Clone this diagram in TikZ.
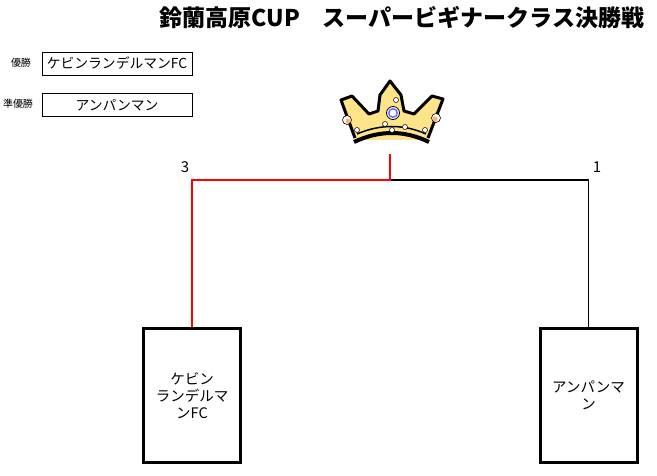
\documentclass[tikz,border=0pt]{standalone}
\usepackage{fontspec}
\newfontfamily\jp{Noto Sans CJK JP}
\usetikzlibrary{calc}

\begin{document}
\begin{tikzpicture}[x=1pt,y=-1pt,
    teambox/.style={draw,line width=3pt,minimum width=97pt,minimum height=134pt,
        align=center,font=\jp\fontsize{14.5}{17}\selectfont,inner sep=0pt},
    resultbox/.style={draw,line width=0.8pt,minimum width=150pt,minimum height=23pt,
        font=\jp\fontsize{13.8}{15}\selectfont,inner sep=0pt},
    smalllabel/.style={font=\jp\fontsize{10}{12}\selectfont},
    scorelabel/.style={font=\jp\fontsize{15}{17}\selectfont},
    winline/.style={red,line width=1.8pt},
    loseline/.style={black,line width=1.8pt}]
    \useasboundingbox (0,0) rectangle (657,476);

    % Title
    \node[font=\jp\bfseries\fontsize{23}{26}\selectfont] (title) at (402,18)
        {鈴蘭高原CUP　スーパービギナークラス決勝戦};

    % Results
    \node[smalllabel] (winlabel) at (21,63) {優勝};
    \node[resultbox] (winner) at (117,63.5) {ケビンランデルマンFC};
    \node[smalllabel] (runlabel) at (18,104) {準優勝};
    \node[resultbox] (runnerup) at (117,105) {アンパンマン};

    % Crown
    \fill[yellow!60!orange!45] (355,140) -- (341,100) -- (352,96) -- (369,114) -- (378,111)
        -- (380,95) -- (390,81) -- (401,95) -- (404,111) -- (414,114) -- (432,96) -- (443,99)
        -- (428,140) -- cycle;
    \draw[line width=3pt,line join=round] (355,138) -- (341,100) -- (352,96) -- (369,114)
        -- (378,111) -- (380,95) -- (390,81) -- (401,95) -- (404,111) -- (414,114)
        -- (432,96) -- (443,99) -- (428,138);
    \draw[line width=4pt] (354,142) .. controls (380,130) and (404,130) .. (429,142);
    \draw[line width=1.5pt] (357,134) .. controls (380,124) and (404,124) .. (426,134);
    \fill[white,draw=black,line width=0.6pt] (347,120) circle (4.5pt);
    \fill[orange!60] (348,121) circle (2.5pt);
    \fill[white,draw=black,line width=0.6pt] (436,118) circle (4.5pt);
    \fill[orange!60] (435,119) circle (2.5pt);
    \fill[white,draw=black,line width=0.8pt] (393,113) circle (6.5pt);
    \draw[blue!60,line width=1.4pt] (393,113) circle (4.3pt);
    \fill[white] (393,113) circle (2.5pt);
    \foreach \px/\py in {396/100, 357/130, 385/124, 392/130, 405/127, 425/130}
        \fill[white,draw=black,line width=0.5pt] (\px,\py) circle (2.5pt);

    % Teams
    \node[teambox] (kevin) at (192,395.5) {ケビン\\ランデルマ\\ンFC};
    \node[teambox] (anpan) at (588.5,395.5) {アンパンマ\\ン};

    % Bracket
    \coordinate (final) at (390,180);
    \coordinate (champ) at (390,154);
    \draw[loseline] (final) -| (anpan.north);
    \draw[winline] (kevin.north) |- (final) -- (champ);

    % Scores
    \node[scorelabel] (score1) at (185,167) {3};
    \node[scorelabel] (score2) at (597,167) {1};
\end{tikzpicture}
\end{document}
